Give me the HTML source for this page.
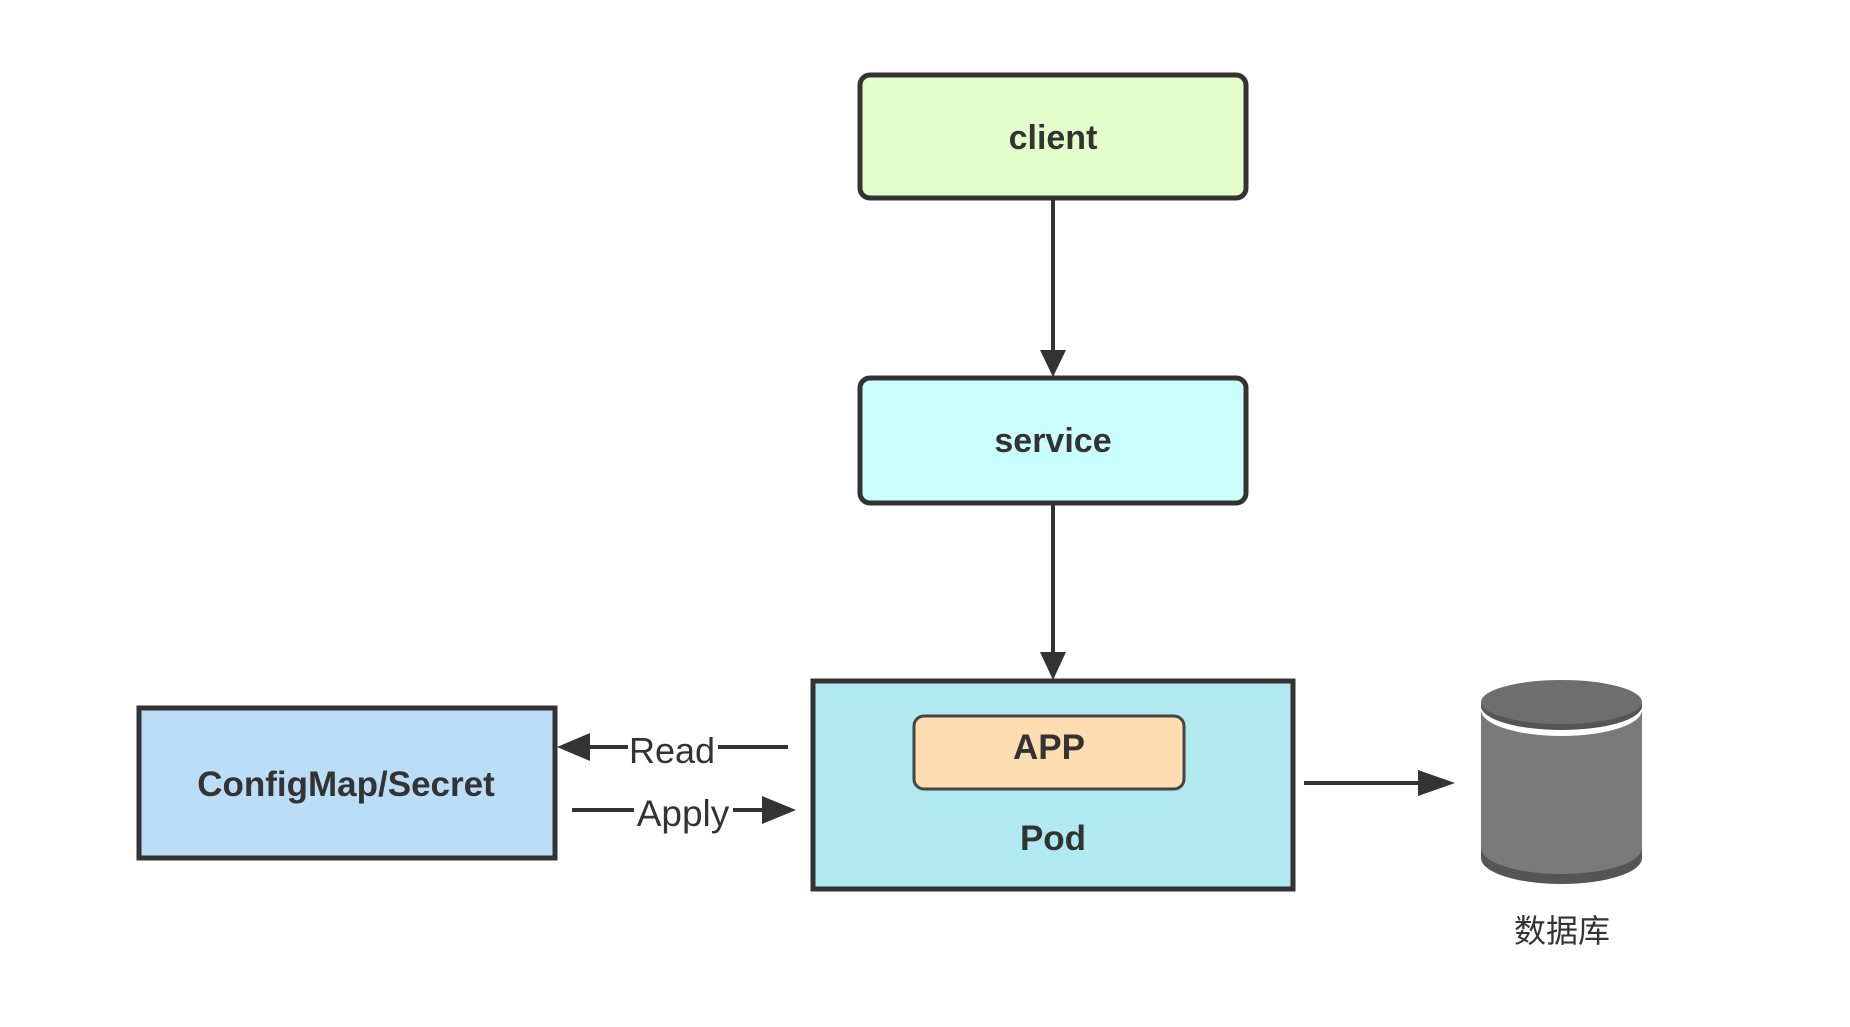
<!DOCTYPE html>
<html><head><meta charset="utf-8"><style>
html,body{margin:0;padding:0;background:#fff;}
svg{display:block}
text{font-family:"Liberation Sans","Noto Sans CJK SC",sans-serif;fill:#333;}
</style></head><body>
<svg width="1850" height="1027" viewBox="0 0 1850 1027" xmlns="http://www.w3.org/2000/svg">
<!-- client -->
<rect x="860" y="75" width="386" height="123" rx="10" fill="#e3fecb" stroke="#333" stroke-width="5"/>
<text x="1053" y="149" font-size="34" font-weight="bold" text-anchor="middle">client</text>
<line x1="1053" y1="198" x2="1053" y2="352" stroke="#333" stroke-width="4"/>
<polygon points="1040,350 1066,350 1053,377" fill="#333"/>
<!-- service -->
<rect x="860" y="378" width="386" height="125" rx="10" fill="#cbfffe" stroke="#333" stroke-width="5"/>
<text x="1053" y="452" font-size="34" font-weight="bold" text-anchor="middle">service</text>
<line x1="1053" y1="503" x2="1053" y2="655" stroke="#333" stroke-width="4"/>
<polygon points="1040,652 1066,652 1053,680" fill="#333"/>
<!-- pod -->
<rect x="813" y="681" width="480" height="208" fill="#b1e9f0" stroke="#333" stroke-width="5"/>
<rect x="914" y="716" width="270" height="73" rx="10" fill="#fedeb0" stroke="#444" stroke-width="3"/>
<text x="1049" y="759" font-size="35" font-weight="bold" text-anchor="middle">APP</text>
<text x="1053" y="850" font-size="35" font-weight="bold" text-anchor="middle">Pod</text>
<!-- configmap -->
<rect x="139" y="708" width="416" height="150" fill="#bbdef8" stroke="#333" stroke-width="5"/>
<text x="346" y="796" font-size="35" font-weight="bold" text-anchor="middle">ConfigMap/Secret</text>
<!-- Read arrow -->
<line x1="580" y1="747" x2="628" y2="747" stroke="#333" stroke-width="4"/>
<line x1="718" y1="747" x2="788" y2="747" stroke="#333" stroke-width="4"/>
<polygon points="557,747 590,733 590,761" fill="#333"/>
<text x="672" y="763" font-size="36" text-anchor="middle" fill="#444">Read</text>
<!-- Apply arrow -->
<line x1="572" y1="810" x2="634" y2="810" stroke="#333" stroke-width="4"/>
<line x1="733" y1="810" x2="765" y2="810" stroke="#333" stroke-width="4"/>
<polygon points="796,810 762,796 762,824" fill="#333"/>
<text x="683" y="826" font-size="37" text-anchor="middle" fill="#444">Apply</text>
<!-- pod -> db -->
<line x1="1304" y1="783" x2="1425" y2="783" stroke="#333" stroke-width="4"/>
<polygon points="1455,783 1418,770 1418,796" fill="#333"/>
<!-- cylinder -->
<path d="M1481,703 L1481,858 A80.5,26 0 0 0 1642,858 L1642,703 Z" fill="#555"/>
<path d="M1481,703 L1481,848 A80.5,26 0 0 0 1642,848 L1642,703 Z" fill="#7a7a7a"/>
<ellipse cx="1561.5" cy="710" rx="80.5" ry="26" fill="#fff"/>
<ellipse cx="1561.5" cy="706" rx="80.5" ry="24" fill="#555"/>
<ellipse cx="1561.5" cy="702" rx="80.5" ry="22" fill="#6e6e6e"/>
<text x="1562" y="942" font-size="32" text-anchor="middle" fill="#444" font-family="'Noto Sans CJK SC',sans-serif">数据库</text>
</svg>
</body></html>
